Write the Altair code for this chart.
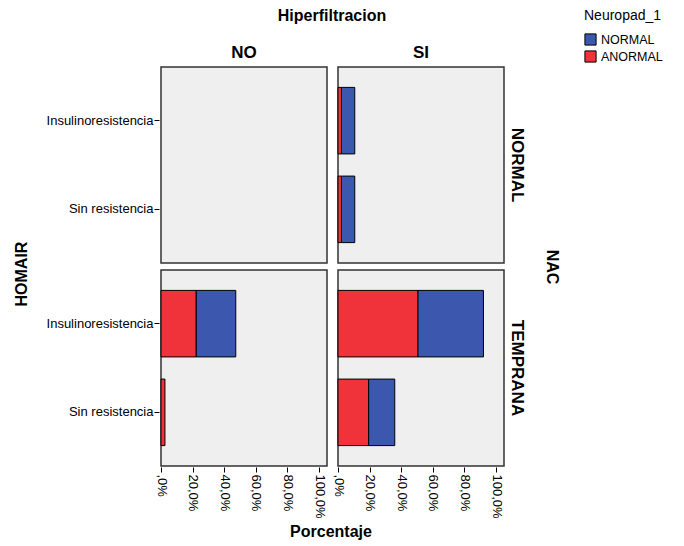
import altair as alt
import pandas as pd

hiper = ["NO", "NO", "NO", "NO", "SI", "SI", "SI", "SI",
         "NO", "NO", "NO", "NO", "SI", "SI", "SI", "SI"]
nac = ["NORMAL", "NORMAL", "TEMPRANA", "TEMPRANA", "NORMAL", "NORMAL", "TEMPRANA", "TEMPRANA",
       "NORMAL", "NORMAL", "TEMPRANA", "TEMPRANA", "NORMAL", "NORMAL", "TEMPRANA", "TEMPRANA"]
homair = ["Insulinoresistencia", "Sin resistencia"] * 8
neuropad = ["ANORMAL"] * 8 + ["NORMAL"] * 8
porcentaje = [0.0, 0.0, 22.3, 2.5, 2.2, 2.2, 50.6, 19.4,
              0.0, 0.0, 25.0, 0.0, 8.4, 8.4, 41.4, 16.5]
orden = [1] * 8 + [2] * 8

df = pd.DataFrame({
    "Hiperfiltracion": hiper,
    "NAC": nac,
    "HOMAIR": homair,
    "Neuropad_1": neuropad,
    "Porcentaje": porcentaje,
    "orden": orden,
})

font = "Liberation Sans"

base = alt.Chart(df).mark_bar(stroke="black").encode(
    x=alt.X("Porcentaje:Q", stack="zero",
            scale=alt.Scale(domain=[0, 105], nice=False),
            axis=alt.Axis(values=[0, 20, 40, 60, 80, 100], labelAngle=90,
                          labelExpr="datum.value == 0 ? ',0%' : replace(format(datum.value, '.1f'), '.', ',') + '%'",
                          title=None, grid=False, labelPadding=2)),
    y=alt.Y("HOMAIR:N", sort=["Insulinoresistencia", "Sin resistencia"],
            scale=alt.Scale(paddingInner=0.25, paddingOuter=0.23),
            axis=alt.Axis(title=None, labelPadding=1)),
    color=alt.Color("Neuropad_1:N",
                    scale=alt.Scale(domain=["NORMAL", "ANORMAL"], range=["#3c58ae", "#f0323b"]),
                    legend=alt.Legend(title="Neuropad_1", orient="none", legendX=423, legendY=-58,
                                      symbolType="square", symbolSize=125,
                                      symbolStrokeColor="black", symbolStrokeWidth=1,
                                      rowPadding=0, titlePadding=10)),
    order=alt.Order("orden:Q"),
    strokeWidth=alt.condition("datum.Porcentaje > 0", alt.value(1), alt.value(0)),
).properties(width=166, height=196)

facet = base.facet(
    column=alt.Column("Hiperfiltracion:N", sort=["NO", "SI"],
                      header=alt.Header(title="Hiperfiltracion", labelOrient="top", titleOrient="top",
                                        labelFont=font, labelFontSize=17, labelFontWeight="bold",
                                        titleFont=font, titleFontSize=16, titleFontWeight="bold",
                                        labelColor="black", titleColor="black", labelPadding=4,
                                        titlePadding=10)),
    row=alt.Row("NAC:N", sort=["NORMAL", "TEMPRANA"],
                header=alt.Header(title="NAC", labelOrient="right", titleOrient="right",
                                  labelAngle=90, titleAngle=90,
                                  labelFont=font, labelFontSize=17, labelFontWeight="bold",
                                  titleFont=font, titleFontSize=16, titleFontWeight="bold",
                                  labelColor="black", titleColor="black", labelPadding=3,
                                  titlePadding=8)),
    spacing={"row": 5, "column": 8},
).properties(
    title=alt.TitleParams("Porcentaje", orient="bottom", anchor="middle", font=font, fontSize=16,
                          fontWeight="bold", color="black", offset=6, dx=28)
)

chart = alt.vconcat(facet).properties(
    title=alt.TitleParams("HOMAIR", orient="left", anchor="middle", font=font, fontSize=16,
                          fontWeight="bold", color="black", offset=16),
).configure_view(
    fill="#efefef", stroke="#333333", strokeWidth=1.5
).configure_axis(
    labelFont=font, labelFontSize=13, labelColor="black",
    domain=False, tickColor="black", tickSize=5,
).configure_legend(
    titleFont=font, titleFontSize=14, titleFontWeight="normal", titleColor="black",
    labelFont=font, labelFontSize=12.5, labelColor="black",
).configure_concat(spacing=0).properties(
    background="white", padding={"left": 14, "top": 8, "right": 10, "bottom": 5}
)

chart.save("out.html", embed_options={"renderer": "svg", "actions": False})
